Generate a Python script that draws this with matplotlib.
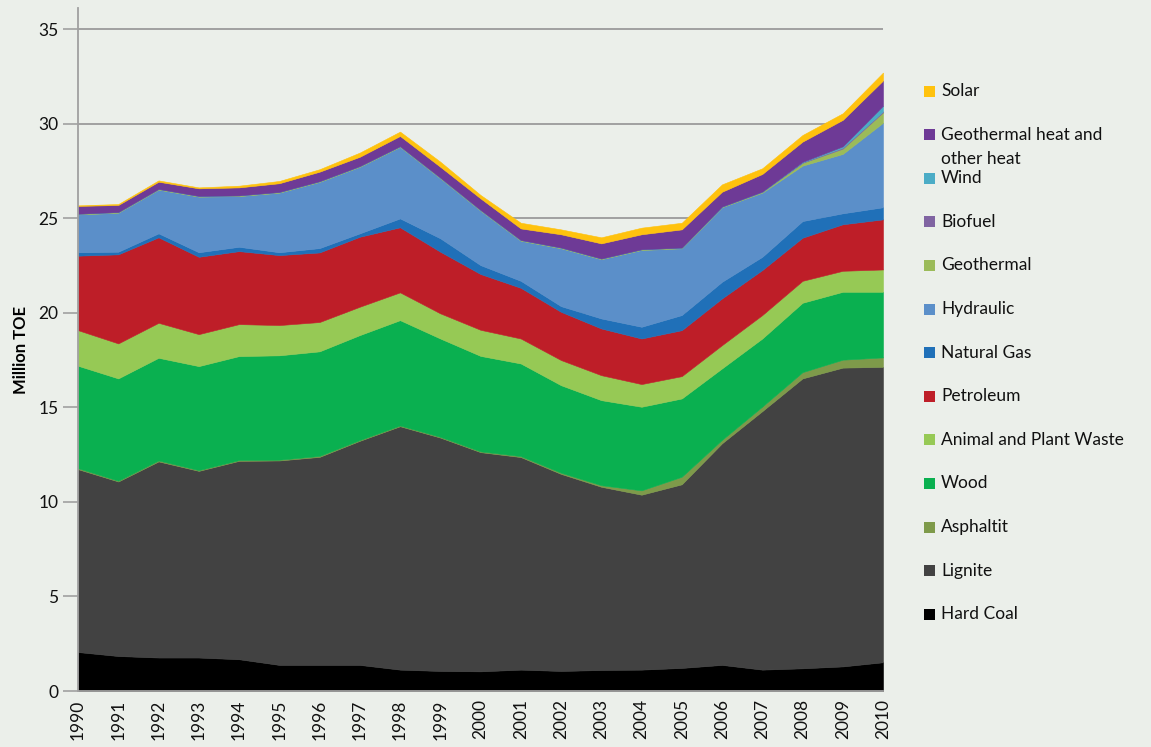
import matplotlib
matplotlib.use("Agg")
import matplotlib.pyplot as plt
from matplotlib.patches import Rectangle

plt.rcParams['font.family'] = ['Lato', 'DejaVu Sans']

years = list(range(1990, 2011))

# Million TOE per source
hard_coal = [2.06, 1.85, 1.77, 1.77, 1.68, 1.38, 1.38, 1.38, 1.13, 1.06, 1.04,
             1.13, 1.06, 1.11, 1.13, 1.22, 1.38, 1.13, 1.20, 1.30, 1.52]
lignite = [9.67, 9.23, 10.37, 9.87, 10.49, 10.81, 11.00, 11.85, 12.87, 12.34, 11.59,
           11.24, 10.42, 9.69, 9.25, 9.71, 11.72, 13.67, 15.33, 15.80, 15.62]
asphaltit = [0.05, 0.04, 0.05, 0.04, 0.04, 0.04, 0.05, 0.04, 0.04, 0.04, 0.04,
             0.05, 0.06, 0.08, 0.23, 0.40, 0.18, 0.24, 0.33, 0.42, 0.50]
wood = [5.42, 5.41, 5.43, 5.50, 5.50, 5.52, 5.53, 5.55, 5.57, 5.20, 5.05,
        4.90, 4.63, 4.50, 4.42, 4.14, 3.78, 3.60, 3.67, 3.59, 3.47]
waste = [1.88, 1.85, 1.85, 1.69, 1.69, 1.60, 1.55, 1.50, 1.47, 1.33, 1.38,
         1.32, 1.33, 1.32, 1.20, 1.18, 1.23, 1.24, 1.16, 1.11, 1.18]
petroleum = [3.94, 4.71, 4.52, 4.09, 3.86, 3.70, 3.68, 3.70, 3.44, 3.26, 2.95,
             2.68, 2.55, 2.47, 2.41, 2.43, 2.47, 2.38, 2.28, 2.46, 2.65]
natural_gas = [0.18, 0.14, 0.21, 0.24, 0.23, 0.15, 0.23, 0.18, 0.47, 0.71, 0.47,
               0.37, 0.30, 0.53, 0.62, 0.80, 0.88, 0.70, 0.88, 0.58, 0.64]
hydraulic = [2.00, 2.06, 2.31, 2.94, 2.68, 3.15, 3.50, 3.52, 3.78, 3.17, 2.88,
             2.12, 3.06, 3.13, 4.06, 3.53, 3.94, 3.39, 2.93, 3.14, 4.47]
geothermal = [0.04, 0.04, 0.04, 0.04, 0.04, 0.04, 0.04, 0.04, 0.04, 0.04, 0.04,
              0.04, 0.04, 0.04, 0.04, 0.04, 0.04, 0.05, 0.15, 0.28, 0.55]
biofuel = [0, 0, 0, 0, 0, 0, 0, 0, 0, 0, 0,
           0, 0, 0, 0, 0, 0, 0, 0.02, 0.05, 0.05]
wind = [0, 0, 0, 0, 0, 0, 0, 0, 0, 0, 0,
        0, 0, 0, 0, 0, 0, 0.01, 0.03, 0.07, 0.30]
geo_heat = [0.41, 0.37, 0.38, 0.40, 0.42, 0.46, 0.50, 0.49, 0.54, 0.57, 0.61,
            0.61, 0.70, 0.80, 0.79, 0.96, 0.78, 0.93, 1.07, 1.40, 1.33]
solar = [0.03, 0.05, 0.07, 0.05, 0.09, 0.12, 0.13, 0.22, 0.23, 0.27, 0.18,
         0.30, 0.26, 0.32, 0.35, 0.35, 0.39, 0.30, 0.35, 0.35, 0.42]

# bottom to top
series = [hard_coal, lignite, asphaltit, wood, waste, petroleum, natural_gas,
          hydraulic, geothermal, biofuel, wind, geo_heat, solar]
labels = ['Hard Coal', 'Lignite', 'Asphaltit', 'Wood', 'Animal and Plant Waste',
          'Petroleum', 'Natural Gas', 'Hydraulic', 'Geothermal', 'Biofuel', 'Wind',
          'Geothermal heat and\nother heat', 'Solar']
colors = ['#000000', '#424242', '#7E9A4A', '#0AB050', '#96C955', '#BE1E28',
          '#2070B8', '#5B8FC9', '#9BBB59', '#8064A2', '#4BACC6', '#6E3A96', '#FFC20E']

bg = '#EBEFEA'
fig = plt.figure(figsize=(11.51, 7.47), dpi=100, facecolor=bg)
W, H = 1151, 747
ax_left, ax_right, ax_top, ax_bot = 78, 883, 8.3, 691
ax = fig.add_axes([ax_left / W, 1 - ax_bot / H, (ax_right - ax_left) / W, (ax_bot - ax_top) / H])
ax.set_facecolor(bg)

ax.stackplot(years, *series, colors=colors, linewidth=0.4,
             edgecolor='face', zorder=2)

ax.set_xlim(1990, 2010)
ax.set_ylim(0, 36.1)
ax.set_yticks(range(0, 36, 5))
ax.set_xticks(years)
ax.set_xticklabels([str(y) for y in years], rotation=90, fontsize=12.5)
ax.tick_params(axis='x', length=0, pad=6, labelcolor='#111111')
ax.tick_params(axis='y', length=11, width=1.2, color='#A0A0A0', labelsize=12.5,
               labelcolor='#111111', pad=3)
ax.yaxis.grid(True, color='#A0A0A0', linewidth=1.4, zorder=1)
ax.set_axisbelow(True)
for s in ['top', 'right']:
    ax.spines[s].set_visible(False)
for s in ['left', 'bottom']:
    ax.spines[s].set_color('#A0A0A0')
    ax.spines[s].set_linewidth(1.3)
ax.set_ylabel('Million TOE', fontsize=12, fontweight='bold', labelpad=7)

# legend drawn by hand, top entry first
leg_y0 = 91
leg_step = 43.6
for i, (lab, col) in enumerate(zip(labels[::-1], colors[::-1])):
    yc = leg_y0 + i * leg_step
    fig.patches.append(Rectangle((924 / W, 1 - (yc + 5.5) / H), 11 / W, 11 / H,
                                 transform=fig.transFigure, facecolor=col,
                                 edgecolor='none'))
    for j, line in enumerate(lab.split('\n')):
        fig.text(941 / W, 1 - (yc + j * 24) / H, line, fontsize=12.5,
                 va='center', ha='left', color='#111111')

fig.savefig('out.png', dpi=100, facecolor=bg)
